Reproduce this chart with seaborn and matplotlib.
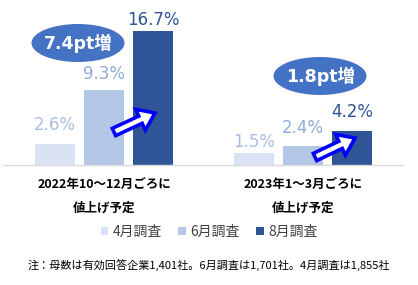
import matplotlib
matplotlib.use('Agg')
import matplotlib.pyplot as plt
import seaborn as sns
import pandas as pd
from matplotlib.patches import Ellipse, FancyArrow

# ---- data ----
periods = ['2022年10～12月ごろに\n値上げ予定', '2023年1～3月ごろに\n値上げ予定']
surveys = ['4月調査', '6月調査', '8月調査']
apr = [2.6, 1.5]
jun = [9.3, 2.4]
aug = [16.7, 4.2]
increase_labels = ['7.4pt増', '1.8pt増']
note = '注：母数は有効回答企業1,401社。6月調査は1,701社。4月調査は1,855社'

# ---- style ----
bar_colors = ['#dae3f3', '#b4c7e7', '#2f5597']
label_colors = ['#a9bee3', '#8faadc', '#2f5597']
label_offsets = [[19, 11], [16, 18], [11, 19]]  # px above bar top (label centre)

sns.set_theme(style='white')
plt.rcParams['font.family'] = ['Noto Sans CJK JP', 'DejaVu Sans']

df = pd.DataFrame({
    'period': periods * 3,
    'survey': [s for s in surveys for _ in periods],
    'value': apr + jun + aug,
})

W, H = 418, 285
fig = plt.figure(figsize=(W / 100, H / 100), dpi=100)
base_y = 165
ax = fig.add_axes([3 / W, (H - base_y) / H, 400 / W, base_y / H])
sns.barplot(data=df, x='period', y='value', hue='survey', order=periods,
            hue_order=surveys, palette=bar_colors, width=0.739, gap=0.2,
            saturation=1, errorbar=None, ax=ax, legend=True, linewidth=0)
handles, labels = ax.get_legend_handles_labels()
ax.get_legend().remove()

ax.set_xlim(-0.5075, 1.5025)
ax.set_ylim(0, base_y / 8.03)
for s in ['top', 'left', 'right']:
    ax.spines[s].set_visible(False)
ax.spines['bottom'].set_color('#d9d9d9')
ax.spines['bottom'].set_linewidth(1)
ax.set_yticks([])
ax.set_xlabel('')
ax.set_ylabel('')
ax.tick_params(axis='x', length=0, pad=10)
for t in ax.get_xticklabels():
    t.set_fontsize(9)
    t.set_fontweight('bold')
    t.set_color('black')
    t.set_linespacing(1.95)
    t.set_family(['Noto Sans CJK JP', 'DejaVu Sans'])

for ci, cont in enumerate(ax.containers):
    for bi, bar in enumerate(cont):
        x = bar.get_x() + bar.get_width() / 2
        h = bar.get_height()
        ax.annotate(f'{h:.1f}%', (x, h), xytext=(0, label_offsets[ci][bi]),
                    textcoords='offset pixels', ha='center', va='center',
                    fontsize=12, color=label_colors[ci], family='DejaVu Sans',
                    annotation_clip=False)

# ---- overlay: ellipses and arrows ----
ov = fig.add_axes([0, 0, 1, 1], zorder=5)
ov.set_xlim(0, W)
ov.set_ylim(H, 0)
ov.axis('off')
ov.patch.set_alpha(0)

ell_centers = [(78, 43), (320, 76)]
for (cx, cy), txt in zip(ell_centers, increase_labels):
    ov.add_patch(Ellipse((cx, cy), 93, 38, color='#4472c4', lw=0))
    ov.text(cx, cy, txt, ha='center', va='center', color='white',
            fontsize=12.5, fontweight='bold',
            family=['DejaVu Sans', 'Noto Sans CJK JP'])

arrows = [((114, 132), (155, 113)), ((315, 157), (355, 138))]
for (x0, y0), (x1, y1) in arrows:
    ov.add_patch(FancyArrow(x0, y0, x1 - x0, y1 - y0, width=8, head_width=23,
                            head_length=16, length_includes_head=True,
                            fc='white', ec='#0000ff', lw=2.6, joinstyle='miter'))

# ---- legend and note ----
fig.legend(handles, labels, loc='center', bbox_to_anchor=(0.5, 1 - 232 / H),
           ncol=3, frameon=False, fontsize=10, handlelength=0.55,
           handleheight=0.55, handletextpad=0.3, columnspacing=1.2,
           labelcolor='#404040')
fig.text(209 / W, 1 - 265 / H, note, ha='center', va='center', fontsize=8,
         color='black')

fig.savefig('out.png', dpi=100)
